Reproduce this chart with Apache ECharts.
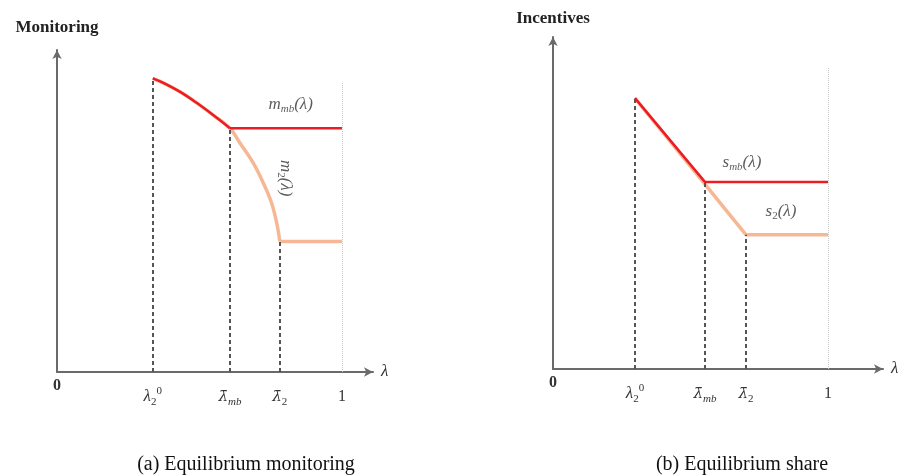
<!DOCTYPE html>
<html>
<head>
<meta charset="UTF-8">
<title>Equilibrium monitoring and share</title>
<script src="https://cdn.jsdelivr.net/npm/echarts@6/dist/echarts.min.js"></script>
<style>
  html, body { margin: 0; padding: 0; background: #fff; }
</style>
</head>
<body>
<div id="main" style="width:909px;height:475px;"></div>
<script type="text/javascript">
// (a) monitoring: lambda values along the curve and the curve heights
var lamA = [0.336, 0.373, 0.432, 0.490, 0.548, 0.607, 0.642, 0.689, 0.724, 0.753, 0.771, 0.782];
var m2A  = [0.912, 0.898, 0.870, 0.836, 0.798, 0.757, 0.711, 0.649, 0.587, 0.525, 0.463, 0.405];
var mmbIndex = 5;          // red curve ends at lambda_mb
var mmbLevel = 0.757;      // m_mb plateau
var m2Level = 0.405;       // m_2 plateau
var ticksA = [0, 0.336, 0.607, 0.782, 1];
var topA = 0.90;           // light line at lambda = 1

// (b) share: piecewise linear
var lamB = [0.298, 0.553, 0.702, 1];
var smbB = [0.816, 0.563, 0.563, 0.563];
var s2B  = [0.816, 0.556, 0.404, 0.404];
var ticksB = [0, 0.298, 0.553, 0.702, 1];
var topB = 0.907;

var tickText = [
  '{z|0}',
  '{g| }\n{l|λ}{s|2}{p|0}',
  '{g| }\n{b|λ̄}{si|mb}',
  '{g| }\n{b|λ̄}{s|2}',
  '{g| }\n{n|1}'
];

var RED = '#ec1c24';
var ORANGE = '#f6b894';
var SERIF = '"Liberation Serif", "DejaVu Serif", serif';
var DJ = '"DejaVu Serif", serif';

var rich = {
  z: { fontFamily: SERIF, fontWeight: 'bold', fontSize: 16, color: '#333' },
  g: { fontSize: 1, lineHeight: 8 },
  l: { fontFamily: SERIF, fontStyle: 'italic', fontSize: 17, color: '#333', lineHeight: 22 },
  b: { fontFamily: DJ, fontStyle: 'italic', fontSize: 15, color: '#333', lineHeight: 22 },
  n: { fontFamily: SERIF, fontSize: 16, color: '#333', lineHeight: 22 },
  s: { fontFamily: SERIF, fontSize: 11, color: '#333', verticalAlign: 'bottom' },
  si: { fontFamily: SERIF, fontStyle: 'italic', fontSize: 11, color: '#333', verticalAlign: 'bottom' },
  p: { fontFamily: SERIF, fontSize: 11, color: '#333', verticalAlign: 'top' }
};

function zip(xs, ys) {
  return xs.map(function (x, i) { return [x, ys[i]]; });
}

function xAxisFor(idx, max, ticks) {
  return {
    type: 'value', gridIndex: idx, min: 0, max: max,
    name: 'λ', nameLocation: 'end', nameGap: 8,
    nameTextStyle: { fontFamily: SERIF, fontStyle: 'italic', fontSize: 17, color: '#333' },
    axisLine: { show: true, symbol: ['none', 'arrow'], symbolSize: [7, 9],
      lineStyle: { color: '#6a6a6a', width: 2 } },
    axisTick: { show: false },
    splitLine: { show: false },
    axisLabel: {
      customValues: ticks, margin: 6, rich: rich,
      formatter: function (v) { return tickText[ticks.indexOf(v)]; }
    }
  };
}

function yAxisFor(idx, name, gap) {
  return {
    type: 'value', gridIndex: idx, min: 0, max: 1,
    name: name, nameLocation: 'end', nameGap: gap,
    nameTextStyle: { fontFamily: SERIF, fontWeight: 'bold', fontSize: 17, color: '#222' },
    axisLine: { show: true, symbol: ['none', 'arrow'], symbolSize: [7, 9],
      lineStyle: { color: '#6a6a6a', width: 2 } },
    axisTick: { show: false },
    axisLabel: { show: false },
    splitLine: { show: false }
  };
}

function guides(idx, xs, ys, x1, top) {
  var dashed = xs.map(function (x, i) {
    return [{ coord: [x, 0] }, { coord: [x, ys[i]] }];
  });
  return [{
    type: 'line', xAxisIndex: idx, yAxisIndex: idx, data: [], silent: true,
    markLine: {
      silent: true, symbol: 'none', label: { show: false }, animation: false,
      lineStyle: { type: [4, 3], color: '#555', width: 2 },
      data: dashed
    }
  }, {
    type: 'line', xAxisIndex: idx, yAxisIndex: idx, data: [], silent: true,
    markLine: {
      silent: true, symbol: 'none', label: { show: false }, animation: false,
      lineStyle: { type: 'dotted', color: '#c8c8c8', width: 1 },
      data: [[{ coord: [x1, 0] }, { coord: [x1, top] }]]
    }
  }];
}

function lineSeries(idx, data, color, width, smooth, z) {
  return {
    type: 'line', xAxisIndex: idx, yAxisIndex: idx, data: data,
    smooth: smooth, showSymbol: false, silent: true, z: z,
    lineStyle: { color: color, width: width }
  };
}

function note(idx, pos, text, rotate) {
  return {
    type: 'scatter', xAxisIndex: idx, yAxisIndex: idx, data: [pos],
    symbolSize: 0, silent: true,
    label: { show: true, position: 'inside', formatter: text, rotate: rotate || 0, rich: {
      m: { fontFamily: SERIF, fontStyle: 'italic', fontSize: 17, color: '#333', lineHeight: 20 },
      u: { fontFamily: SERIF, fontStyle: 'italic', fontSize: 11, color: '#333', verticalAlign: 'bottom' },
      d: { fontFamily: SERIF, fontSize: 11, color: '#333', verticalAlign: 'bottom' }
    } }
  };
}

var curveA = zip(lamA, m2A);
var lamMb = lamA[mmbIndex], lam2 = lamA[lamA.length - 1];

var series = []
  .concat(guides(0, [ticksA[1], ticksA[2], ticksA[3]], [m2A[0], mmbLevel, m2Level], 1, topA))
  .concat(guides(1, [ticksB[1], ticksB[2], ticksB[3]], [s2B[0], smbB[1], s2B[2]], 1, topB))
  .concat([
    lineSeries(0, curveA, ORANGE, 3.5, 0.4, 3),
    lineSeries(0, [[lam2, m2Level], [1, m2Level]], ORANGE, 3.5, false, 3),
    lineSeries(0, curveA.slice(0, mmbIndex + 1), RED, 2.5, 0.4, 4),
    lineSeries(0, [[lamMb, mmbLevel], [1, mmbLevel]], RED, 2.5, false, 4),
    lineSeries(1, zip(lamB, s2B), ORANGE, 3.5, false, 3),
    lineSeries(1, zip(lamB, smbB), RED, 2.5, false, 4),
    note(0, [0.82, 0.83], '{m|m}{u|mb}{m|(λ)}', 0),
    note(0, [0.803, 0.602], '{m|m}{d|2}{m|(λ)}', -90),
    note(1, [0.687, 0.623], '{m|s}{u|mb}{m|(λ)}', 0),
    note(1, [0.829, 0.473], '{m|s}{d|2}{m|(λ)}', 0)
  ]);

var chart = echarts.init(document.getElementById('main'));
chart.setOption({
  animation: false,
  backgroundColor: '#fff',
  title: [
    { text: '(a) Equilibrium monitoring', left: 241, top: 450, textAlign: 'center',
      textStyle: { fontFamily: SERIF, fontWeight: 'normal', fontSize: 20, color: '#111' } },
    { text: '(b) Equilibrium share', left: 737, top: 450, textAlign: 'center',
      textStyle: { fontFamily: SERIF, fontWeight: 'normal', fontSize: 20, color: '#111' } }
  ],
  grid: [
    { left: 57, top: 50, width: 316, height: 322 },
    { left: 553, top: 37, width: 330, height: 332 }
  ],
  xAxis: [xAxisFor(0, 1.109, ticksA), xAxisFor(1, 1.2, ticksB)],
  yAxis: [yAxisFor(0, 'Monitoring', 14), yAxisFor(1, 'Incentives', 10)],
  series: series
});
</script>
</body>
</html>
